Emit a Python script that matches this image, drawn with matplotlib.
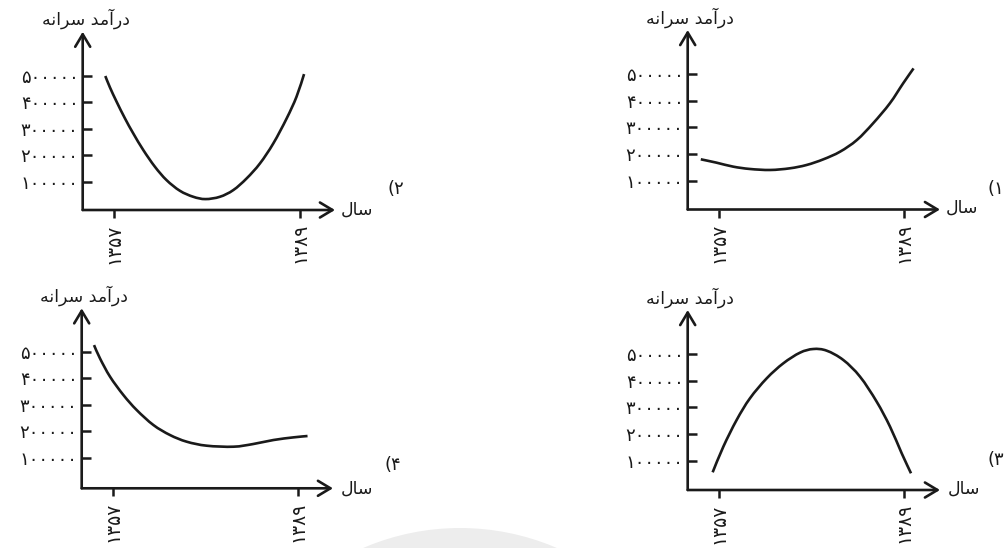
import matplotlib
matplotlib.use("Agg")
import matplotlib.pyplot as plt
from matplotlib.patches import Ellipse, PathPatch
from matplotlib.path import Path

plt.rcParams['font.family'] = ['DejaVu Sans']

# ---------------- data ----------------
# Persian labels (presentation forms, visual order)
y_label = "\uFEEA\uFEE7\uFE8D\uFEAE\uFEB3 \uFEAA\uFEE3\uFE81\uFEAD\uFEA9"   # درآمد سرانه
x_label = "\uFEDD\uFE8E\uFEB3"                                              # سال
y_ticks = [100000, 200000, 300000, 400000, 500000]
y_tick_labels = ["۱۰۰۰۰۰", "۲۰۰۰۰۰", "۳۰۰۰۰۰", "۴۰۰۰۰۰", "۵۰۰۰۰۰"]
x_ticks = [1357, 1389]
x_tick_labels = ["۱۳۵۷", "۱۳۸۹"]
panel_labels = ["(۱", "(۲", "(۳", "(۴"]

# panel 1 (top right)
years_1 = [1353.8, 1356.5, 1359.4, 1362.3, 1365.8, 1369.2, 1372.1, 1375.0,
           1377.9, 1380.8, 1383.6, 1386.5, 1388.8, 1390.6]
income_1 = [180000, 167500, 152500, 143750, 140000, 146250, 158750, 180000,
            208750, 252500, 315000, 390000, 465000, 521000]
# panel 2 (top left)
years_2 = [1355.45, 1356.25, 1357.4, 1358.84, 1360.27, 1362.0, 1364.0, 1366.0,
           1368.3, 1370.6, 1372.7, 1375.2, 1377.5, 1379.8, 1382.1, 1384.4,
           1386.7, 1388.4, 1389.7]
income_2 = [500000, 456800, 402500, 339400, 282600, 219600, 156500, 106000,
            65600, 42900, 34100, 42900, 68100, 112300, 169100, 244800,
            339400, 421500, 507300]
# panel 3 (bottom right)
years_3 = [1355.85, 1357.7, 1360.0, 1362.3, 1365.2, 1368.07, 1370.96, 1373.26,
           1375.57, 1378.45, 1381.34, 1384.22, 1386.53, 1388.55, 1390.16]
income_3 = [56250, 152500, 252500, 333750, 408750, 465000, 505000, 518750,
            512500, 477500, 415000, 321250, 227500, 127500, 52500]
# panel 4 (bottom left)
years_4 = [1353.77, 1354.8, 1356.54, 1358.85, 1361.15, 1364.04, 1366.92, 1369.8,
           1373.26, 1377.9, 1381.3, 1384.8, 1388.26, 1390.7]
income_4 = [525000, 474800, 405700, 336500, 279900, 223300, 185500, 160400,
            145300, 141500, 151600, 166700, 176700, 181800]

series = [(years_1, income_1), (years_2, income_2), (years_3, income_3), (years_4, income_4)]

# ---------------- layout (pixels) ----------------
W, H = 1008, 548
layouts = [
    dict(ax_x=687.7, ax_y=209.5, tip_x=940, tip_y=30, p57=719.3, p89=904.3, p0=207.3, p5=74.0,
         ylab=(690, 18), xlab=(962, 208), num=(996, 189)),
    dict(ax_x=82.7, ax_y=210.0, tip_x=335, tip_y=31.7, p57=114.3, p89=300.0, p0=208.1, p5=76.0,
         ylab=(86, 19), xlab=(357, 210), num=(396, 189)),
    dict(ax_x=687.7, ax_y=490.0, tip_x=940, tip_y=310, p57=719.3, p89=904.3, p0=487.3, p5=354.0,
         ylab=(690, 298), xlab=(964, 489), num=(996, 460)),
    dict(ax_x=81.7, ax_y=488.3, tip_x=333, tip_y=308.3, p57=112.7, p89=297.7, p0=484.2, p5=351.7,
         ylab=(84, 296), xlab=(357, 489), num=(393, 465)),
]


def smooth_path(xs, ys):
    """Catmull-Rom curve through the given points, drawn as cubic Bezier path."""
    pts = list(zip(xs, ys))
    n = len(pts)
    verts = [pts[0]]
    codes = [Path.MOVETO]
    for i in range(n - 1):
        p0 = pts[i - 1] if i > 0 else pts[i]
        p1 = pts[i]
        p2 = pts[i + 1]
        p3 = pts[i + 2] if i + 2 < n else pts[i + 1]
        c1 = (p1[0] + (p2[0] - p0[0]) / 6.0, p1[1] + (p2[1] - p0[1]) / 6.0)
        c2 = (p2[0] - (p3[0] - p1[0]) / 6.0, p2[1] - (p3[1] - p1[1]) / 6.0)
        verts += [c1, c2, p2]
        codes += [Path.CURVE4] * 3
    return Path(verts, codes)


fig = plt.figure(figsize=(W / 100, H / 100), dpi=100)
fig.patch.set_facecolor("white")

# faint watermark disc at the bottom
r = 245
fig.patches.append(Ellipse((460 / W, 1 - 773 / H), 2 * r / W, 2 * r / H,
                           transform=fig.transFigure, facecolor="#ededed",
                           edgecolor="none", zorder=0))

INK = "#1a1a1a"
LW = 1.9
for (yrs, vals), L, num in zip(series, layouts, panel_labels):
    left = L['ax_x'] / W
    bottom = 1 - L['ax_y'] / H
    width = (L['tip_x'] - L['ax_x']) / W
    height = (L['ax_y'] - L['tip_y']) / H
    ax = fig.add_axes([left, bottom, width, height])
    ax.patch.set_alpha(0)

    ppy = (L['p89'] - L['p57']) / 32.0
    x0 = 1357 + (L['ax_x'] - L['p57']) / ppy
    x1 = 1357 + (L['tip_x'] - L['p57']) / ppy
    ppv = (L['p0'] - L['p5']) / 500000.0
    y0 = (L['p0'] - L['ax_y']) / ppv
    y1 = (L['p0'] - L['tip_y']) / ppv
    ax.set_xlim(x0, x1)
    ax.set_ylim(y0, y1)

    for s in ax.spines.values():
        s.set_visible(False)

    ax.add_patch(PathPatch(smooth_path(yrs, vals), fill=False, edgecolor=INK,
                           lw=LW, capstyle='butt', clip_on=False))

    arrow = dict(arrowstyle="->,head_length=0.45,head_width=0.27", lw=LW,
                 color=INK, shrinkA=0, shrinkB=0, mutation_scale=20)
    ax.annotate("", xy=(1, 0), xytext=(0, 0), xycoords='axes fraction',
                textcoords='axes fraction', arrowprops=arrow, annotation_clip=False)
    ax.annotate("", xy=(0, 1), xytext=(0, 0), xycoords='axes fraction',
                textcoords='axes fraction', arrowprops=arrow, annotation_clip=False)

    ax.set_yticks(y_ticks)
    ax.set_yticklabels(y_tick_labels, fontsize=13)
    ax.tick_params(axis='y', direction='in', length=6.5, width=1.8, pad=3,
                   color=INK, labelcolor=INK)
    ax.set_xticks(x_ticks)
    ax.set_xticklabels(x_tick_labels, rotation=90, fontsize=13.5)
    ax.tick_params(axis='x', direction='out', length=5.5, width=1.8, pad=4,
                   color=INK, labelcolor=INK)

    fig.text(L['ylab'][0] / W, 1 - L['ylab'][1] / H, y_label, fontsize=12.5,
             ha='center', va='center', color=INK)
    fig.text(L['xlab'][0] / W, 1 - L['xlab'][1] / H, x_label, fontsize=12.5,
             ha='center', va='center', color=INK)
    fig.text(L['num'][0] / W, 1 - L['num'][1] / H, num, fontsize=13,
             ha='center', va='center', color=INK)

fig.savefig("out.png", dpi=100, facecolor="white")
